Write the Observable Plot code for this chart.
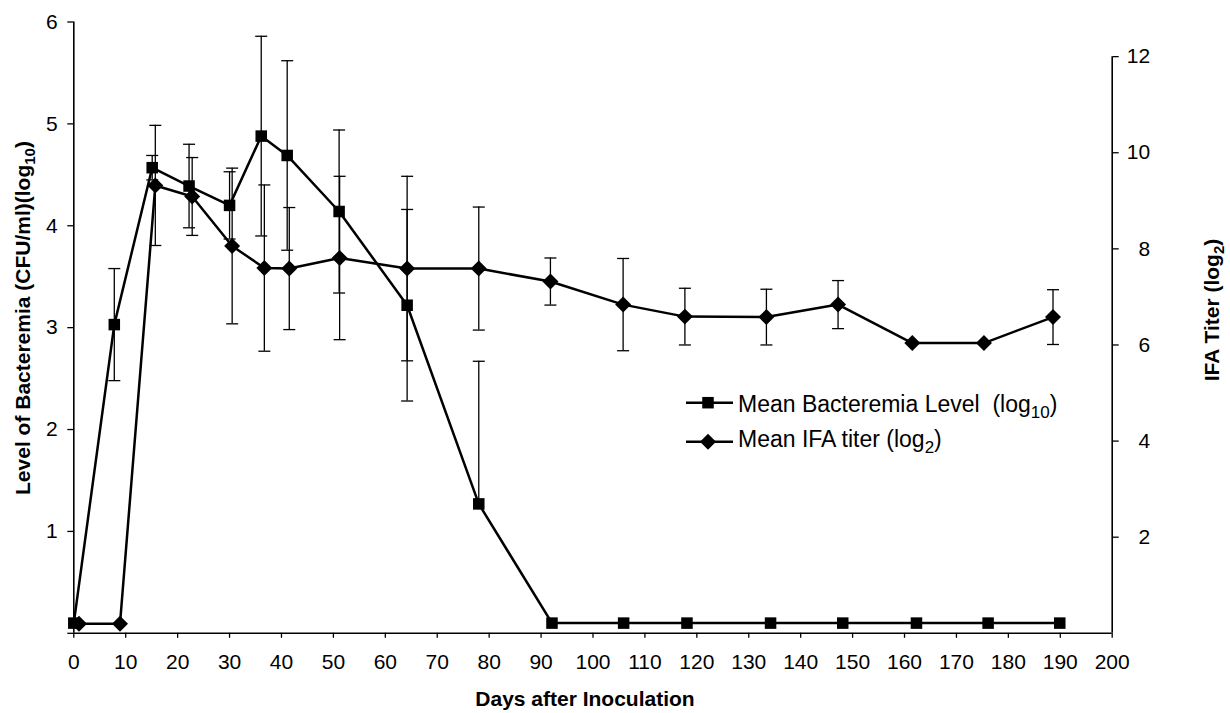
<!DOCTYPE html>
<html><head><meta charset="utf-8">
<script src="https://cdn.jsdelivr.net/npm/d3@7"></script>
<script src="https://cdn.jsdelivr.net/npm/@observablehq/plot@0.6"></script>
<style>
html,body{margin:0;padding:0;background:#fff;}
#chart{position:relative;width:1230px;height:713px;}
</style></head><body><div id="chart"></div>
<script>
// ---- data ----
const bactDays = [0, 7.8, 15.1, 22.2, 30.0, 36.1, 41.1, 51.1, 64.2, 78.0, 92.1, 105.9, 118.1, 134.2, 148.1, 162.3, 176.1, 189.9];
const bactMean = [0.1, 3.03, 4.57, 4.39, 4.20, 4.88, 4.69, 4.14, 3.22, 1.27, 0.1, 0.1, 0.1, 0.1, 0.1, 0.1, 0.1, 0.1];
const bactErr  = [0, 0.55, 0.12, 0.41, 0.33, 0.98, 0.93, 0.80, 0.94, 1.40, 0, 0, 0, 0, 0, 0, 0, 0];
const ifaDays  = [1.0, 8.9, 15.7, 22.8, 30.5, 36.7, 41.5, 51.2, 64.2, 78.0, 91.8, 105.8, 117.7, 133.4, 147.2, 161.5, 175.3, 188.6];
const ifaMean  = [0.2, 0.2, 9.32, 9.09, 8.06, 7.60, 7.59, 7.81, 7.59, 7.59, 7.32, 6.84, 6.59, 6.58, 6.84, 6.04, 6.04, 6.58];
const ifaErr   = [0, 0, 1.25, 0.81, 1.62, 1.73, 1.27, 1.70, 1.92, 1.28, 0.49, 0.96, 0.59, 0.58, 0.50, 0, 0, 0.57];
const xTicks = [0, 10, 20, 30, 40, 50, 60, 70, 80, 90, 100, 110, 120, 130, 140, 150, 160, 170, 180, 190, 200];
const leftTicks = [0, 1, 2, 3, 4, 5, 6];
const rightTicks = [2, 4, 6, 8, 10, 12];
const xTitle = "Days after Inoculation";
const seriesNames = ["Mean Bacteremia Level  (log", "Mean IFA titer (log"];

// right axis (log2) expressed in left-axis units: 12 on the right sits at 5.66 on the left
const K = 5.66 / 12;

const bact = bactDays.map((d, i) => ({day: d, v: bactMean[i], e: bactErr[i]}));
const ifa = ifaDays.map((d, i) => ({day: d, v: ifaMean[i] * K, e: ifaErr[i] * K}));
const errRows = [];
const caps = [];
for (const r of [...bact, ...ifa]) {
  if (!(r.e > 0)) continue;
  const lo = r.v - r.e, hi = r.v + r.e;
  errRows.push({day: r.day, lo: lo > 0 ? lo : r.v, hi});
  caps.push({day: r.day, y: hi});
  if (lo > 0) caps.push({day: r.day, y: lo});
}
const capSymbol = {draw(ctx, size) { const r = Math.sqrt(size / Math.PI); ctx.moveTo(-r, 0); ctx.lineTo(r, 0); }};

const W = 1230, H = 713;
const font = "'Liberation Sans', Arial, sans-serif";

const plot = Plot.plot({
  width: W, height: H,
  marginLeft: 73.3, marginRight: W - 1111.7, marginTop: 21.5, marginBottom: H - 632.8,
  style: {fontFamily: font, fontSize: "21px", color: "black", background: "white", overflow: "visible"},
  x: {domain: [0, 200]},
  y: {domain: [0, 6]},
  marks: [
    Plot.axisX({ticks: xTicks, tickSize: 5, tickPadding: 16, label: null, strokeWidth: 1.3, fontSize: 21}),
    Plot.axisY({anchor: "left", ticks: leftTicks, tickFormat: d => d === 0 ? "" : String(d), tickSize: 6, tickPadding: 10, label: null, strokeWidth: 1.3, fontSize: 21}),
    Plot.axisY({anchor: "right", ticks: rightTicks.map(v => v * K), tickFormat: d => String(Math.round(d / K)), tickSize: 6, tickPadding: 32, textAnchor: "end", label: null, strokeWidth: 1.3, fontSize: 21}),
    Plot.ruleX([0], {y1: 0, y2: 6, strokeWidth: 1.6}),
    Plot.ruleX([200], {y1: 0, y2: 12 * K, strokeWidth: 1.6}),
    Plot.ruleY([0], {x1: 0, x2: 200, strokeWidth: 1.6}),
    Plot.ruleX(errRows, {x: "day", y1: "lo", y2: "hi", strokeWidth: 1.3, stroke: "black"}),
    Plot.dot(caps, {x: "day", y: "y", symbol: capSymbol, r: 6, stroke: "black", strokeWidth: 1.3, fill: "none"}),
    Plot.line(bact, {x: "day", y: "v", stroke: "black", strokeWidth: 2.5}),
    Plot.line(ifa, {x: "day", y: "v", stroke: "black", strokeWidth: 2.5}),
    Plot.dot(bact, {x: "day", y: "v", symbol: "square", r: 6.5, fill: "black", stroke: "none"}),
    Plot.dot(ifa, {x: "day", y: "v", symbol: "diamond2", r: 7.2, fill: "black", stroke: "none"})
  ]
});
document.getElementById("chart").appendChild(plot);

// ---- titles and legend ----
const svg = d3.select(plot);
const g = svg.append("g").attr("font-family", font).attr("fill", "black");

// bottom title
g.append("text").attr("x", 585).attr("y", 706).attr("text-anchor", "middle")
  .attr("font-weight", "bold").attr("font-size", 21).text(xTitle);

// left title
const lt = g.append("text").attr("transform", "translate(30,318) rotate(-90)")
  .attr("text-anchor", "middle").attr("font-weight", "bold").attr("font-size", 21);
lt.append("tspan").text("Level of Bacteremia (CFU/ml)(log");
lt.append("tspan").attr("font-size", 15).attr("dy", 5).text("10");
lt.append("tspan").attr("dy", -5).text(")");

// right title
const rt = g.append("text").attr("transform", "translate(1219,310) rotate(-90)")
  .attr("text-anchor", "middle").attr("font-weight", "bold").attr("font-size", 21);
rt.append("tspan").text("IFA Titer (log");
rt.append("tspan").attr("font-size", 15).attr("dy", 5).text("2");
rt.append("tspan").attr("dy", -5).text(")");

// legend
const leg = g.append("g");
const rows = [{y: 402.7, base: 411.7, sym: "square", sub: "10"}, {y: 441.7, base: 447, sym: "diamond", sub: "2"}];
rows.forEach((r, i) => {
  leg.append("line").attr("x1", 686).attr("x2", 733).attr("y1", r.y).attr("y2", r.y).attr("stroke", "black").attr("stroke-width", 2.5);
  if (r.sym === "square") leg.append("rect").attr("x", 708 - 5.75).attr("y", r.y - 5.75).attr("width", 11.5).attr("height", 11.5);
  else leg.append("path").attr("d", d3.symbol(d3.symbolDiamond2, Math.PI * 7.2 * 7.2)()).attr("transform", `translate(708,${r.y})`);
  const t = leg.append("text").attr("x", 738).attr("y", r.base).attr("font-size", 23)
    .attr("text-anchor", "start").style("white-space", "pre");
  t.append("tspan").text(seriesNames[i]);
  t.append("tspan").attr("font-size", 17).attr("dy", 6).text(r.sub);
  t.append("tspan").attr("dy", -6).text(")");
});
</script></body></html>
